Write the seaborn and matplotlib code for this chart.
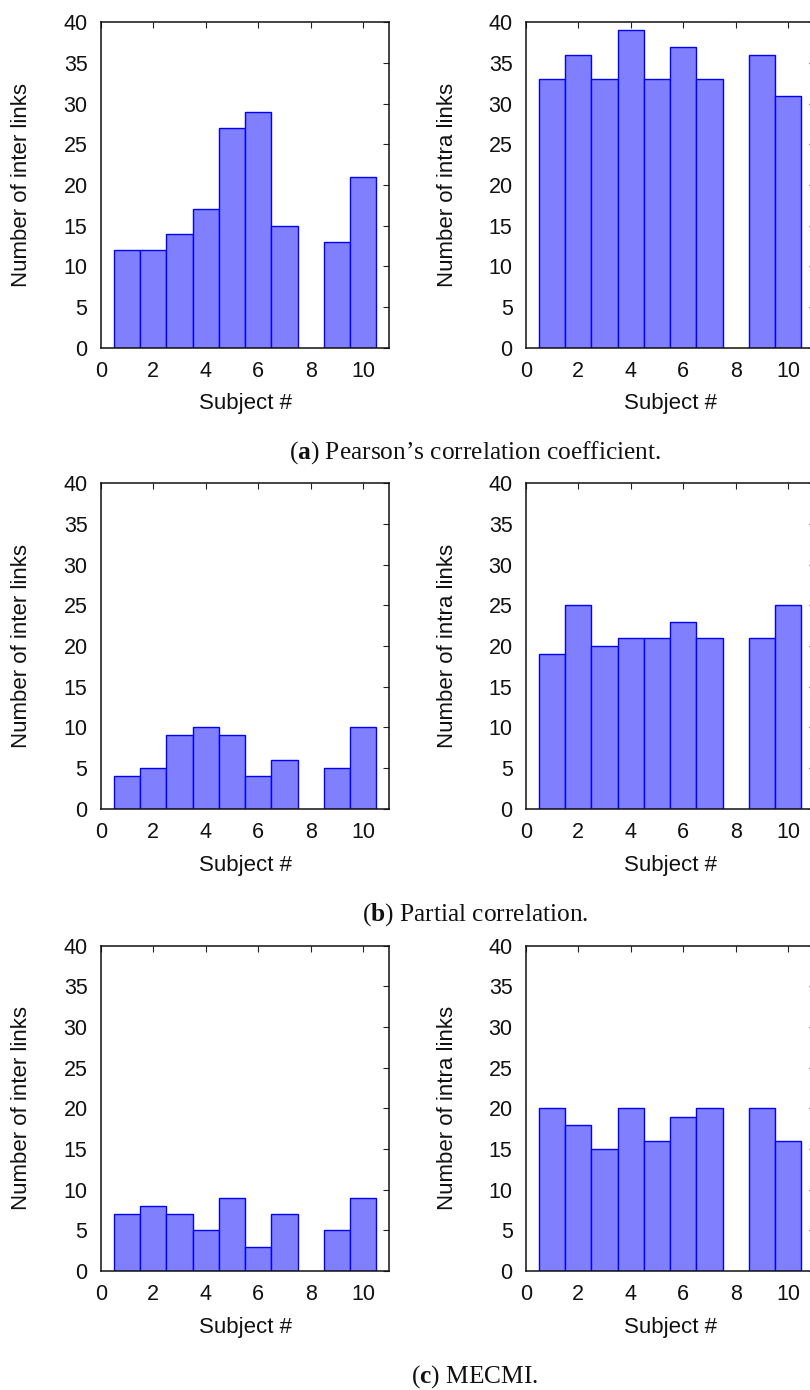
import matplotlib
matplotlib.use("Agg")
import matplotlib.pyplot as plt
import seaborn as sns
import pandas as pd

# Subjects (subject 8 has no recording)
subjects = [1, 2, 3, 4, 5, 6, 7, 9, 10]

# Number of links per subject for each connectivity measure
pearson_inter = [12, 12, 14, 17, 27, 29, 15, 13, 21]
pearson_intra = [33, 36, 33, 39, 33, 37, 33, 36, 31]
partial_inter = [4, 5, 9, 10, 9, 4, 6, 5, 10]
partial_intra = [19, 25, 20, 21, 21, 23, 21, 21, 25]
mecmi_inter = [7, 8, 7, 5, 9, 3, 7, 5, 9]
mecmi_intra = [20, 18, 15, 20, 16, 19, 20, 20, 16]

captions = [
    r"($\mathbf{a}$) Pearson’s correlation coefficient.",
    r"($\mathbf{b}$) Partial correlation.",
    r"($\mathbf{c}$) MECMI.",
]
x_ticks = [0, 2, 4, 6, 8, 10]
y_ticks = [0, 5, 10, 15, 20, 25, 30, 35, 40]

sns.set_theme(style="white")
plt.rcParams["font.family"] = ["Liberation Sans", "DejaVu Sans"]
plt.rcParams["mathtext.fontset"] = "custom"
plt.rcParams["mathtext.rm"] = "Liberation Serif"
plt.rcParams["mathtext.bf"] = "Liberation Serif:bold"

W, H = 810, 1390
fig = plt.figure(figsize=(W / 100, H / 100), dpi=100)

rows = [
    (pearson_inter, pearson_intra),
    (partial_inter, partial_intra),
    (mecmi_inter, mecmi_intra),
]
row_tops = [22.3, 483.3, 945.7]
ax_h = 325.4
col_lefts = [100.7, 525.8]
ax_w = 288.7
ylabels = ["Number of inter links", "Number of intra links"]
caption_y = [453, 915, 1377]

fill = "#8080ff"
edge = "#0000ff"

for r, (inter, intra) in enumerate(rows):
    for c, vals in enumerate((inter, intra)):
        left = col_lefts[c] / W
        bottom = 1 - (row_tops[r] + ax_h) / H
        ax = fig.add_axes([left, bottom, ax_w / W, ax_h / H])
        df = pd.DataFrame({"subject": subjects, "links": vals})
        sns.barplot(data=df, x="subject", y="links", native_scale=True,
                    width=1.0, color=fill, saturation=1, edgecolor=edge,
                    linewidth=1.0, errorbar=None, ax=ax)
        ax.set_xlim(0, 11)
        ax.set_ylim(0, 40)
        ax.set_xticks(x_ticks)
        ax.set_xticklabels([str(t) for t in x_ticks])
        ax.set_yticks(y_ticks)
        ax.set_yticklabels([str(t) for t in y_ticks])
        ax.tick_params(direction="in", top=True, right=True, length=4,
                       width=0.8, color="#222222", labelsize=15.5,
                       labelcolor="#111111", pad=9.5)
        for s in ax.spines.values():
            s.set_visible(True)
            s.set_color("#111111")
            s.set_linewidth(1.1)
        ax.set_xlabel("Subject #", fontsize=16, color="#111111")
        ax.set_ylabel(ylabels[c], fontsize=16, color="#111111")
        # axis titles sit a fixed distance from the frame
        ax.xaxis.set_label_coords(0.5, -(404 - 347.7) / ax_h)
        ax.xaxis.label.set_va("center")
        ax.yaxis.set_label_coords((22 - 100.7) / ax_w, 0.5)
        ax.yaxis.label.set_va("center")
        ax.grid(False)
        ax.set_facecolor("white")
    fig.text(475 / W, 1 - caption_y[r] / H, captions[r], ha="center",
             va="center", fontsize=18.3, family="Liberation Serif",
             color="#111111")

fig.savefig("out.png", dpi=100, facecolor="white")
